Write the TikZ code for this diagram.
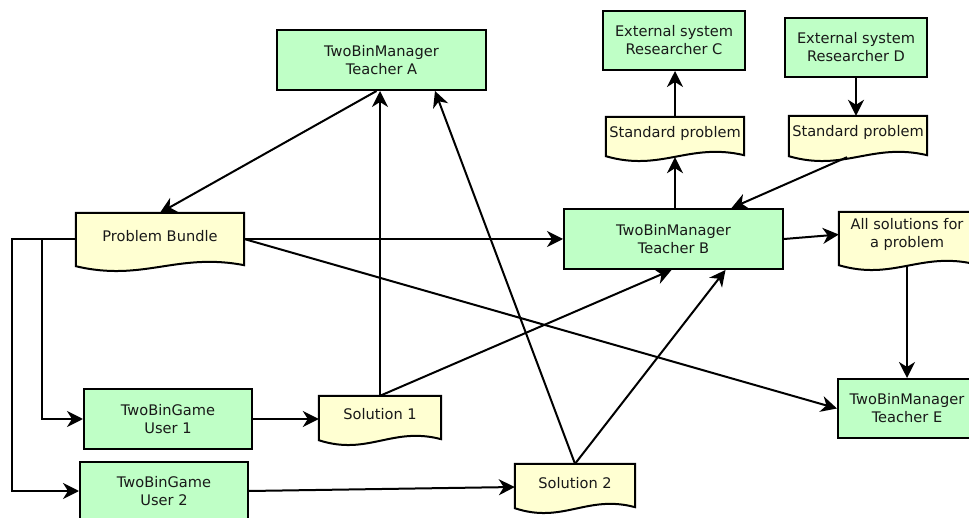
\documentclass[tikz,border=0pt]{standalone}
\usepackage{fontspec}
\setmainfont{DejaVu Sans}
\usetikzlibrary{calc,arrows.meta,backgrounds}
\definecolor{boxgreen}{RGB}{191,255,198}
\definecolor{docyellow}{RGB}{255,255,210}
\definecolor{txt}{RGB}{25,25,25}
\tikzset{
  lbl/.style={font=\fontsize{14.6}{18}\selectfont, align=center, inner sep=0pt, text=txt},
  proc/.style={lbl, draw=black, fill=boxgreen, line width=2pt},
  doctext/.style={lbl},
  docline/.style={draw=black, fill=docyellow, line width=2pt, line join=miter},
  conn/.style={line width=2pt, -{Stealth[length=16pt,width=16pt,inset=5pt]}},
}
\newcommand\docshape[2]{%
  \draw[docline] (#1.north west) -- (#1.north east) -- ($(#1.south east)+(0,#2-1)$)
    .. controls ($(#1.south west)!0.6!(#1.south east)+(0,#2-14)$)
    and ($(#1.south west)!0.4!(#1.south east)+(0,#2+16)$)
    .. ($(#1.south west)+(0,#2)$) -- cycle;
  \coordinate (#1-b) at ($(#1.south)+(0,#2+1)$);}
\begin{document}
\begin{tikzpicture}[x=1pt,y=-1pt]
\useasboundingbox (0,0) rectangle (969,518);
% process boxes
\node[proc, minimum width=209, minimum height=60] (ta) at (381.5,60) {TwoBinManager\\Teacher A};
\node[proc, minimum width=219, minimum height=60] (tb) at (673.5,239) {TwoBinManager\\Teacher B};
\node[proc, minimum width=142, minimum height=59] (ec) at (674,40.5) {External system\\Researcher C};
\node[proc, minimum width=142, minimum height=59] (ed) at (856,47.5) {External system\\Researcher D};
\node[proc, minimum width=138, minimum height=59] (te) at (907,408.5) {TwoBinManager\\Teacher E};
\node[proc, minimum width=168, minimum height=60] (u1) at (168,419) {TwoBinGame\\User 1};
\node[proc, minimum width=168, minimum height=58] (u2) at (164,491) {TwoBinGame\\User 2};
% documents
\node[doctext, minimum width=168, minimum height=46] (pb) at (160,236) {Problem Bundle};
\node[doctext, minimum width=138, minimum height=33] (sc) at (675,133.5) {Standard problem};
\node[doctext, minimum width=138, minimum height=32] (sd) at (858,132) {Standard problem};
\node[doctext, minimum width=136, minimum height=45] (as) at (907,234.5) {All solutions for\\a problem};
\node[doctext, minimum width=122, minimum height=36] (s1) at (380,414) {Solution 1};
\node[doctext, minimum width=120, minimum height=38] (s2) at (575,483) {Solution 2};
\begin{scope}[on background layer]
  \docshape{pb}{7}
  \docshape{sc}{6}
  \docshape{sd}{8}
  \docshape{as}{8}
  \docshape{s1}{8}
  \docshape{s2}{6}
\end{scope}
\coordinate (j1) at (42,239);
\coordinate (j2) at (12,239);
% connectors
\draw[conn] ($(ta.south)+(-5,0)$) -- (pb.north);
\draw[conn] (s1.north) -- (s1.north |- ta.south);
\draw[conn] (s2.north) -- ($(ta.south)+(53.5,0)$);
\draw[conn] (s1.north) -- ($(tb.south)+(-2,0)$);
\draw[conn] (s2.north) -- ($(tb.south)+(52,0)$);
\draw[conn] (pb.east |- tb.west) -- (tb.west);
\draw[conn] (pb.east |- tb.west) -- (te.west);
\draw[conn] (sc-b |- tb.north) -- (sc-b);
\draw[conn] (sc.north) -- (sc.north |- ec.south);
\draw[conn] (ed.south) -- (ed.south |- sd.north);
\draw[conn] ($(sd-b)+(-11,0)$) -- ($(tb.north)+(58,0)$);
\draw[conn] (tb.east) -- (as.west);
\draw[conn] (as-b) -- (as-b |- te.north);
\draw[conn] (pb.west |- tb.west) -- (j1) |- (u1.west);
\draw[conn] (pb.west |- tb.west) -- (j2) |- (u2.west);
\draw[conn] (u1.east) -- (u1.east -| s1.west);
\draw[conn] (u2.east) -- ($(s2.west)+(0,4)$);
\end{tikzpicture}
\end{document}
